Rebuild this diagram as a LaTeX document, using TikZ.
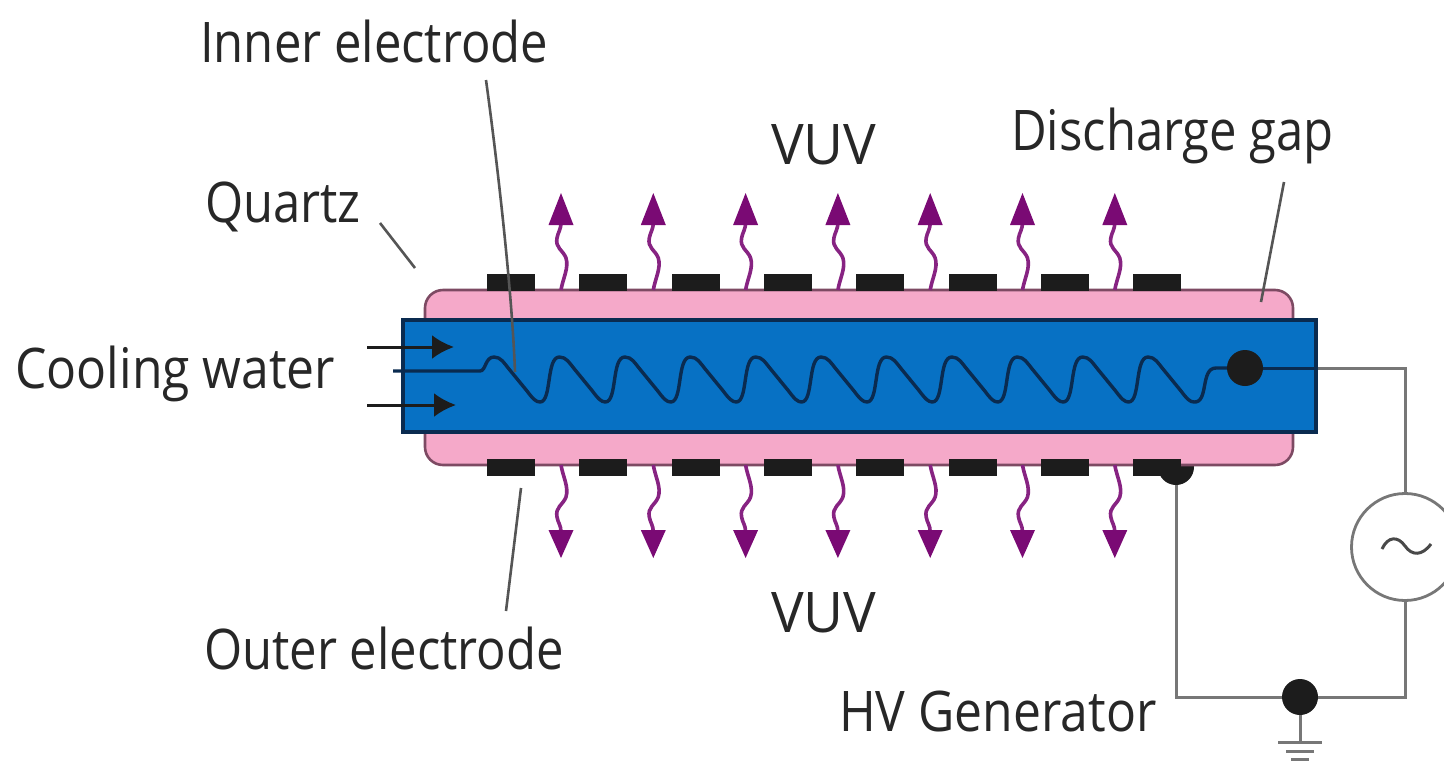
\documentclass[tikz,border=0pt]{standalone}
\usepackage{fontspec}
\setmainfont[FakeStretch=0.875]{Open Sans}
\newfontfamily\widerfont[FakeStretch=0.89]{Open Sans}
\newfontfamily\widestfont[FakeStretch=0.98]{Open Sans}
\usetikzlibrary{arrows.meta,calc}
\definecolor{pinkq}{HTML}{F5A9C9}
\definecolor{pinkedge}{HTML}{7D4A63}
\definecolor{bluew}{HTML}{0771C4}
\definecolor{blueedge}{HTML}{0A2B50}
\definecolor{vuvc}{HTML}{7A0A74}
\definecolor{ink}{HTML}{1C1C1C}
\definecolor{wire}{HTML}{777777}
\definecolor{lead}{HTML}{555555}
\tikzset{
  lbl/.style={anchor=base west,inner sep=0pt,text=ink!95,font=\fontsize{56}{56}\selectfont},
  elec/.style={fill=ink,draw=none,minimum width=48pt,minimum height=17pt,inner sep=0pt},
  wdot/.style={circle,fill=ink,draw=none,minimum size=36pt,inner sep=0pt},
  wirel/.style={draw=wire,line width=3pt},
  leader/.style={draw=lead,line width=2.6pt},
  wavy/.style={draw=vuvc!90!white,line width=3.6pt},
  vuvtip/.style={fill=vuvc,draw=none},
  flow/.style={draw=ink,line width=3pt,-{Latex[length=22pt,width=24pt]}},
}
\begin{document}
\begin{tikzpicture}[x=1pt,y=-1pt]
\useasboundingbox (0,0) rectangle (1444,761);
\clip (0,0) rectangle (1444,761);
% bottom contact dot sits behind the quartz
\node[wdot] (dotbottom) at (1176,467) {};
\coordinate (cornerleft) at (1176,697);
\coordinate (cornerright) at (1405,697);
\coordinate (cornertop) at (1405,368);
\node[circle,draw=wire,fill=white,line width=2.8pt,minimum size=107pt,inner sep=0pt] (gen) at (1405,547) {};
\node[wdot] (dotground) at (1300,697) {};
\draw[wirel] (dotbottom) -- (cornerleft) -- (dotground) -- (cornerright) -- (gen.south);
\draw[wirel] (gen.north) -- (cornertop) -- (1316,368);
% tube
\draw[draw=pinkedge,fill=pinkq,line width=2.6pt,rounded corners=18pt] (425,290) rectangle (1293,465);
\draw[draw=blueedge,fill=bluew,line width=3.4pt] (403,320) rectangle (1316,432);
\draw[draw=blueedge,line width=3pt] (1245,368) -- (1316,368);
% electrodes and radiation
\foreach \i in {0,...,7}{
  \node[elec] (et\i) at ({511+92.3*\i},282) {};
  \node[elec] (eb\i) at ({511+92.3*\i},467.5) {};
}
\foreach \i in {0,...,6}{
  \pgfmathsetmacro{\ax}{561+92.3*\i}
  \draw[wavy] (\ax,290) .. controls (\ax+2,278) and (\ax+8,268) .. (\ax+5,258)
     .. controls (\ax+2,250) and (\ax-6,248) .. (\ax-4,238) .. controls (\ax-3,232) and (\ax,230) .. (\ax,222);
  \fill[vuvtip] (\ax,193) -- (\ax+12.5,225) -- (\ax-12.5,225) -- cycle;
  \draw[wavy] (\ax,465) .. controls (\ax+2,477) and (\ax+8,487) .. (\ax+5,497)
     .. controls (\ax+2,505) and (\ax-6,507) .. (\ax-4,517) .. controls (\ax-3,523) and (\ax,525) .. (\ax,532);
  \fill[vuvtip] (\ax,558) -- (\ax+12.5,530) -- (\ax-12.5,530) -- cycle;
}
% coil
\draw[draw=blueedge,line width=3.4pt,line join=round] (393,371) -- (480,371) .. controls (486,371) and (485,357) .. (494,357)
  \foreach \i in {0,...,10}{
    \pgfextra{\pgfmathsetmacro{\p}{494+65.4*\i}}
    .. controls ({\p+7},357) and ({\p+10},363) .. ({\p+15},369) -- ({\p+33},391)
    .. controls ({\p+39},399) and ({\p+42},402) .. ({\p+46},402)
    \ifnum\i<10
    .. controls ({\p+58},402) and ({\p+52},357) .. ({\p+65.4},357)
    \fi
  }
  .. controls (1209,403) and (1200,368) .. (1216,368) -- (1228,368);
\node[wdot] (dotinner) at (1245,368) {};
% cooling arrows
\coordinate (inA) at (367,347);\coordinate (inAe) at (454,347);
\coordinate (inB) at (367,405);\coordinate (inBe) at (456,405);
\draw[flow] (inA) -- (inAe);
\draw[flow] (inB) -- (inBe);
% generator symbol
\draw[draw=ink!80,line width=3pt] (1382,549) .. controls (1388,536) and (1398,536) .. (1405,546) .. controls (1412,556) and (1422,556) .. (1431,544);
% ground
\coordinate (gnd) at (1300,742);
\draw[draw=wire,line width=3pt] (dotground) -- (gnd);
\draw[draw=wire,line width=3pt] (1278,742) -- (1322,742);
\draw[draw=wire,line width=3pt] (1286,751) -- (1314,751);
\draw[draw=wire,line width=3pt] (1291,759) -- (1309,759);
% labels
\node[lbl] (linner) at (200,62) {Inner electrode};
\node[lbl] (lquartz) at (205,222) {Quartz};
\node[lbl] (lvuvt) at (771,164) {\widestfont VUV};
\node[lbl] (lgap) at (1011,150) {Discharge gap};
\node[lbl] (lcool) at (15,388) {\widerfont Cooling water};
\node[lbl] (lvuvb) at (771,632) {\widestfont VUV};
\node[lbl] (louter) at (204,669) {Outer electrode};
\node[lbl] (lhv) at (839,731) {\widerfont HV Generator};
% leaders
\coordinate (a1) at (486,80);\coordinate (a2) at (515,372);
\draw[leader] (a1) .. controls (497,160) and (512,290) .. (a2);
\coordinate (b1) at (380,223);\coordinate (b2) at (415,268);
\draw[leader] (b1) -- (b2);
\coordinate (c1) at (1284,182);\coordinate (c2) at (1261,302);
\draw[leader] (c1) -- (c2);
\coordinate (d1) at (521,488);\coordinate (d2) at (506,611);
\draw[leader] (d1) -- (d2);
\end{tikzpicture}
\end{document}
